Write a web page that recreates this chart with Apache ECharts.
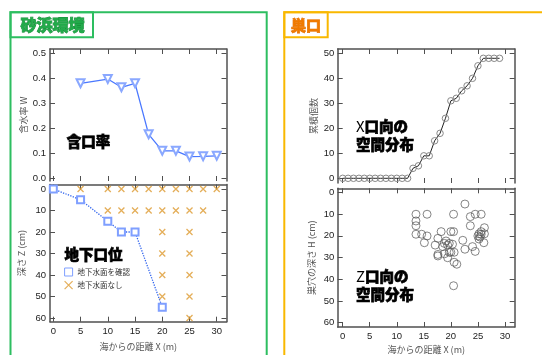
<!DOCTYPE html>
<html><head><meta charset="utf-8">
<script src="https://cdn.jsdelivr.net/npm/echarts@6/dist/echarts.min.js"></script>
<style>html,body{margin:0;padding:0;background:#fff}#c{width:542px;height:355px}</style>
</head><body><div id="c"></div>
<script>
// ---- data ----
const xTicks = [0, 5, 10, 15, 20, 25, 30];
const wTicks = [0, 0.1, 0.2, 0.3, 0.4, 0.5];
const zTicks = [0, 10, 20, 30, 40, 50, 60];
const nTicks = [0, 10, 20, 30, 40, 50];

// 含水率
const wX = [5, 10, 12.5, 15, 17.5, 20, 22.5, 25, 27.5, 30];
const wVal = [0.38, 0.397, 0.364, 0.38, 0.176, 0.11, 0.11, 0.087, 0.088, 0.09];

// 地下水位: 確認
const sqX = [0, 5, 10, 12.5, 15, 20];
const sqZ = [0, 5, 15, 20, 20, 55];
// 地下水面なし
const crossX = [5, 10, 12.5, 15, 17.5, 20, 22.5, 25, 27.5, 30,
                10, 12.5, 15, 17.5, 20, 22.5, 25, 27.5,
                20, 25, 20, 25, 20, 25, 20, 25, 25];
const crossZ = [0, 0, 0, 0, 0, 0, 0, 0, 0, 0,
                10, 10, 10, 10, 10, 10, 10, 10,
                20, 20, 30, 30, 40, 40, 50, 50, 60];

// 巣穴 累積個数
const cumX = [0, 1, 2, 3, 4, 5, 6, 7, 8, 9, 10, 11, 12, 13, 14, 15, 16, 17, 18, 19, 20, 21, 22, 23, 24, 25, 26, 27, 28, 29];
const cumN = [0, 0, 0, 0, 0, 0, 0, 0, 0, 0, 0, 0, 0, 4, 5, 9, 9, 15, 18, 24, 31, 32, 35, 37, 40, 45, 48, 48, 48, 48];

// 巣穴の深さ
const nestX = [13.55, 13.55, 13.55, 13.55, 14.6, 15.6, 15.6, 15.1, 17.1, 17.6, 18.2, 17.6, 17.6,
               18.5, 18.8, 19.1, 19.4, 19.7, 19.4, 20.0, 20.5, 20.5, 20.3, 20.0, 20.6, 20.6, 21.1,
               20.5, 22.2, 22.6, 22.6, 23.6, 23.6, 24.5, 25.6, 24.0, 24.5, 25.0, 25.2, 25.6, 25.6,
               26.2, 26.2, 26.1, 25.4, 18.8, 19.7, 25.2];
const nestH = [10.1, 13.2, 15.4, 19.3, 19.3, 10.1, 20.1, 23.2, 24.3, 21.2, 18.1, 28.6, 29.3,
               25.0, 28.3, 22.4, 24.3, 23.5, 30.1, 18.1, 10.1, 18.1, 23.9, 27.6, 27.6, 32.2, 33.1,
               43.0, 22.1, 26.2, 5.4, 11.2, 15.4, 10.1, 10.1, 25.0, 27.2, 20.1, 19.1, 19.3, 18.1,
               16.3, 19.1, 23.2, 20.6, 23.5, 27.6, 21.5];

const zip = (a, b) => a.map((v, i) => [v, b[i]]);

// ---- styling ----
const frame = '#505050';
const numFont = 'Liberation Sans';
const jpFont = 'Noto Sans CJK JP';

function ax(gridIndex, position, min, max, ticks, extra) {
  const o = {
    type: 'value', gridIndex, position, min, max,
    splitLine: { show: false },
    axisLine: { show: true, onZero: false, lineStyle: { color: frame, width: 1.5 } },
    axisTick: { show: true, inside: true, length: 5, customValues: ticks, lineStyle: { color: frame, width: 1 } },
    axisLabel: { show: false, customValues: ticks, color: '#222', fontSize: 9.5, fontFamily: numFont, margin: 4 },
    nameTextStyle: { color: '#555', fontSize: 9, fontFamily: jpFont }
  };
  if (extra) {
    for (const k in extra) {
      if (typeof extra[k] === 'object' && !Array.isArray(extra[k]) && o[k]) Object.assign(o[k], extra[k]);
      else o[k] = extra[k];
    }
  }
  return o;
}

const xL = [-0.61, 31.79];
const xR = [-0.92, 31.8];

const heavy = { fill: '#000', stroke: '#000', lineWidth: 0.7 };

const option = {
  animation: false,
  backgroundColor: '#fff',
  grid: [
    { left: 50, top: 49, width: 176.5, height: 132 },
    { left: 50, top: 184.5, width: 176.5, height: 137.2 },
    { left: 337.7, top: 49, width: 177, height: 134 },
    { left: 337.7, top: 188.3, width: 177, height: 138.7 }
  ],
  xAxis: [
    ax(0, 'bottom', xL[0], xL[1], xTicks, { axisLine: { show: false } }),
    ax(0, 'top', xL[0], xL[1], xTicks),
    ax(1, 'bottom', xL[0], xL[1], xTicks, {
      axisLabel: { show: true, margin: 5 },
      name: '海からの距離 X (m)', nameLocation: 'middle', nameGap: 20
    }),
    ax(1, 'top', xL[0], xL[1], xTicks),
    ax(2, 'bottom', xR[0], xR[1], xTicks, { axisLine: { show: false } }),
    ax(2, 'top', xR[0], xR[1], xTicks),
    ax(3, 'bottom', xR[0], xR[1], xTicks, {
      axisLabel: { show: true, margin: 4 },
      name: '海からの距離 X (m)', nameLocation: 'middle', nameGap: 18
    }),
    ax(3, 'top', xR[0], xR[1], xTicks)
  ],
  yAxis: [
    ax(0, 'left', -0.0108, 0.5172, wTicks, {
      axisLabel: { show: true, formatter: v => v.toFixed(1) },
      name: '含水率 W', nameLocation: 'middle', nameGap: 22
    }),
    ax(0, 'right', -0.0108, 0.5172, wTicks),
    ax(1, 'left', -2.09, 61.72, zTicks, {
      inverse: true, axisLabel: { show: true },
      name: '深さ Z (cm)', nameLocation: 'middle', nameGap: 24
    }),
    ax(1, 'right', -2.09, 61.72, zTicks, { inverse: true }),
    ax(2, 'left', -1.88, 51.72, nTicks, {
      axisLabel: { show: true, margin: 3.5 },
      name: '累積個数', nameLocation: 'middle', nameGap: 20
    }),
    ax(2, 'right', -1.88, 51.72, nTicks),
    ax(3, 'left', -1.84, 61.99, zTicks, {
      inverse: true, axisLabel: { show: true, margin: 3.5 },
      name: '巣穴の深さ H (cm)', nameLocation: 'middle', nameGap: 22
    }),
    ax(3, 'right', -1.84, 61.99, zTicks, { inverse: true })
  ],
  legend: {
    orient: 'vertical', left: 64, top: 267.5, padding: 0, itemGap: 4,
    itemWidth: 8, itemHeight: 8,
    textStyle: { fontSize: 7.5, color: '#333', fontFamily: jpFont },
    data: [
      { name: '地下水面を確認', icon: 'rect', itemStyle: { color: '#fff', borderColor: '#7f9fff', borderWidth: 1 } },
      { name: '地下水面なし', icon: 'path://M0,0L10,10M10,0L0,10', itemStyle: { color: 'rgba(0,0,0,0)', borderColor: '#dd9a30', borderWidth: 1.2 } }
    ]
  },
  series: [
    {
      type: 'line', xAxisIndex: 0, yAxisIndex: 0, data: zip(wX, wVal),
      symbol: 'emptyTriangle', symbolRotate: 180, symbolSize: 8,
      itemStyle: { color: '#8aa8ff', borderWidth: 0.9 },
      lineStyle: { color: '#4a78ff', width: 1.3 }
    },
    {
      name: '地下水面を確認', type: 'line', xAxisIndex: 2, yAxisIndex: 2, data: zip(sqX, sqZ),
      symbol: 'emptyRect', symbolSize: 7,
      itemStyle: { color: '#7f9fff', borderWidth: 1 },
      lineStyle: { color: '#3366ee', width: 1.3, type: 'dotted' }
    },
    {
      name: '地下水面なし', type: 'scatter', xAxisIndex: 2, yAxisIndex: 2, data: zip(crossX, crossZ),
      symbol: 'path://M0,0L10,10M10,0L0,10', symbolSize: 6,
      itemStyle: { color: 'rgba(0,0,0,0)', borderColor: '#dd9a30', borderWidth: 1.3 }
    },
    {
      type: 'line', xAxisIndex: 4, yAxisIndex: 4, data: zip(cumX, cumN),
      symbol: 'circle', symbolSize: 6.5,
      itemStyle: { color: 'rgba(0,0,0,0)', borderColor: '#888', borderWidth: 1 },
      lineStyle: { color: '#222', width: 1 }
    },
    {
      type: 'scatter', xAxisIndex: 6, yAxisIndex: 6, data: zip(nestX, nestH),
      symbol: 'circle', symbolSize: 8,
      itemStyle: { color: 'rgba(0,0,0,0)', borderColor: '#555', borderWidth: 0.9 }
    }
  ],
  graphic: [
    { type: 'rect', z: 100, shape: { x: 20, y: 181, width: 29, height: 3.4 }, style: { fill: '#fff' } },
    { type: 'rect', z: 50, shape: { x: 10.5, y: 12.3, width: 256.2, height: 400 }, style: { fill: 'none', stroke: '#2dbe60', lineWidth: 2 } },
    { type: 'rect', z: 50, shape: { x: 10.5, y: 12.3, width: 82.5, height: 25 }, style: { fill: 'none', stroke: '#2dbe60', lineWidth: 2 } },
    { type: 'rect', z: 50, shape: { x: 284.3, y: 12.3, width: 300, height: 400 }, style: { fill: 'none', stroke: '#f9b800', lineWidth: 2 } },
    { type: 'rect', z: 50, shape: { x: 284.3, y: 12.3, width: 43.4, height: 25 }, style: { fill: 'none', stroke: '#f9b800', lineWidth: 2 } },
    { type: 'text', z: 50, x: 52.5, y: 25, style: { text: '砂浜環境', fill: '#22aa4a', stroke: '#178a38', lineWidth: 0.8, font: '900 16px "Noto Sans CJK JP"', textAlign: 'center', textVerticalAlign: 'middle' } },
    { type: 'text', z: 50, x: 306, y: 25, style: { text: '巣口', fill: '#f07a00', stroke: '#e06c00', lineWidth: 0.7, font: '900 15px "Noto Sans CJK JP"', textAlign: 'center', textVerticalAlign: 'middle' } },
    { type: 'text', z: 50, x: 88.5, y: 141.7, style: Object.assign({ text: '含口率', font: '900 14.5px "Noto Sans CJK JP"', textAlign: 'center', textVerticalAlign: 'middle' }, heavy) },
    { type: 'text', z: 50, x: 93.5, y: 254, style: Object.assign({ text: '地下口位', font: '900 14.5px "Noto Sans CJK JP"', textAlign: 'center', textVerticalAlign: 'middle' }, heavy) },
    { type: 'text', z: 50, x: 356, y: 135.3, style: {
        text: '{a|X}{b|口向の}\n{b|空間分布}', textAlign: 'left', textVerticalAlign: 'middle',
        rich: { a: { fontSize: 15, fontFamily: jpFont, fontWeight: 'normal', fill: '#000', lineHeight: 17.5 },
                b: { fontSize: 14.5, fontFamily: jpFont, fontWeight: 900, fill: '#000', stroke: '#000', lineWidth: 0.7, lineHeight: 17.5 } } } },
    { type: 'text', z: 50, x: 356, y: 285.3, style: {
        text: '{a|Z}{b|口向の}\n{b|空間分布}', textAlign: 'left', textVerticalAlign: 'middle',
        rich: { a: { fontSize: 15, fontFamily: jpFont, fontWeight: 'normal', fill: '#000', lineHeight: 17.5 },
                b: { fontSize: 14.5, fontFamily: jpFont, fontWeight: 900, fill: '#000', stroke: '#000', lineWidth: 0.7, lineHeight: 17.5 } } } }
  ]
};

const chart = echarts.init(document.getElementById('c'), null, { renderer: 'canvas' });
chart.setOption(option);
</script>
</body></html>
